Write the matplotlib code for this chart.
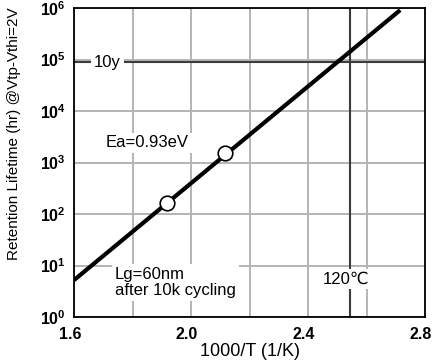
import numpy as np
import matplotlib
matplotlib.use("Agg")
import matplotlib.pyplot as plt
import matplotlib.transforms as mtransforms
from matplotlib.ticker import FixedLocator, LogLocator, NullLocator

plt.rcParams['font.family'] = ['Liberation Sans', 'DejaVu Sans']
plt.rcParams['mathtext.fontset'] = 'custom'
plt.rcParams['mathtext.rm'] = 'Liberation Sans'
plt.rcParams['mathtext.bf'] = 'Liberation Sans:bold'

# Arrhenius fit line (1000/T, hours) and the two measured points
fit_x = [1.6, 2.715]
fit_y = [5.2, 9.1e5]
meas_x = [1.918, 2.116]
meas_y = [163, 1520]

ten_years_hr = 87600
t_120C = 1000 / (120 + 273.15)

xmajor = [1.6, 2.0, 2.4, 2.8]
xminor = [1.8, 2.2, 2.6]

fig = plt.figure(figsize=(4.34, 3.62), dpi=100)
ax = fig.add_axes([0.1705, 0.1243, 0.8088, 0.8536])

grid_c = '#b4b4b4'
dark_c = '#3c3c3c'

ax.set_yscale('log')
ax.set_xlim(1.6, 2.8)
ax.set_ylim(1, 1e6)

ax.xaxis.set_major_locator(FixedLocator(xmajor))
ax.xaxis.set_minor_locator(FixedLocator(xminor))
ax.yaxis.set_major_locator(LogLocator(base=10, numticks=10))
ax.yaxis.set_minor_locator(NullLocator())
ax.grid(True, which='both', axis='x', color=grid_c, linewidth=1.4, zorder=0)
ax.grid(True, which='major', axis='y', color=grid_c, linewidth=1.4, zorder=0)
ax.set_axisbelow(True)

ax.axhline(ten_years_hr, color=dark_c, linewidth=1.5, zorder=1)
ax.axvline(t_120C, color=dark_c, linewidth=1.5, zorder=1)

ax.plot(fit_x, fit_y, color='black', linewidth=3, solid_capstyle='butt', zorder=3)
ax.plot(meas_x, meas_y, 'o', markersize=10.5, markerfacecolor='white',
        markeredgecolor='black', markeredgewidth=1.2, zorder=4)

box = dict(facecolor='white', edgecolor='none', pad=2)
ax.text(1.668, 10**4.95, '10y', fontsize=12, va='center', ha='left', bbox=box, zorder=2)
ax.text(1.709, 10**3.38, 'Ea=0.93eV', fontsize=12, va='center', ha='left', bbox=box, zorder=2)
ax.text(1.74, 10**0.67, 'Lg=60nm\nafter 10k cycling', fontsize=12, va='center',
        ha='left', linespacing=1.15, bbox=box, zorder=2)
ax.text(2.53, 10**0.74, '120\u2103', fontsize=12, va='center', ha='center',
        bbox=box, zorder=2)

for s in ax.spines.values():
    s.set_linewidth(1.3)
    s.set_color('black')
    s.set_zorder(5)

ax.tick_params(which='both', direction='in', length=0, labelsize=11.5, pad=6)
ax.tick_params(axis='x', pad=7)
shift = mtransforms.ScaledTranslation(-0.04, 0, fig.dpi_scale_trans)
for lab in ax.get_xticklabels():
    lab.set_fontweight('bold')
    lab.set_transform(lab.get_transform() + shift)
for lab in ax.get_yticklabels():
    lab.set_fontweight('bold')

ax.set_xlabel('1000/T (1/K)', fontsize=13, labelpad=1)
ax.set_ylabel('Retention Lifetime (hr) @Vtp-Vthi=2V', fontsize=11)
ax.yaxis.set_label_coords(-0.151, 0.592)

fig.savefig('out.png', dpi=100)
